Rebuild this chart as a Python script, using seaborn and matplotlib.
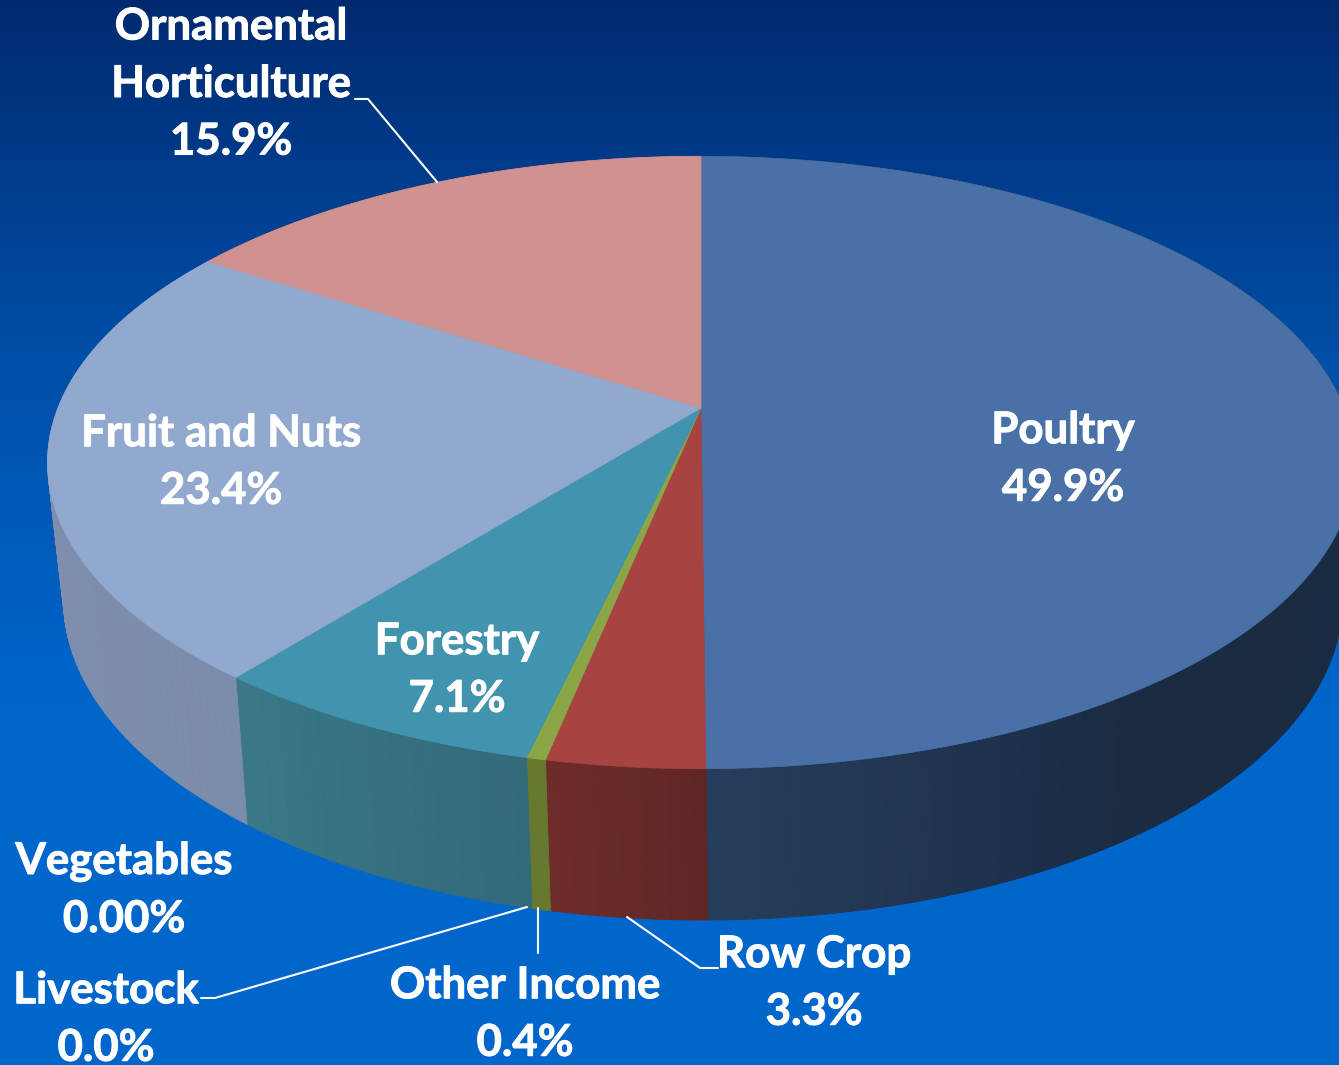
import numpy as np
import matplotlib
matplotlib.use('Agg')
import matplotlib.pyplot as plt
import matplotlib.colors as mcolors
import matplotlib.patheffects as pe
import seaborn as sns

# Slices, clockwise from 12 o'clock
categories = ['Poultry', 'Row Crop', 'Other Income', 'Forestry', 'Fruit and Nuts',
              'Ornamental\nHorticulture', 'Livestock', 'Vegetables']
shares = [49.9, 3.3, 0.4, 7.1, 23.4, 15.9, 0.0, 0.0]
share_labels = ['49.9%', '3.3%', '0.4%', '7.1%', '23.4%', '15.9%', '0.0%', '0.00%']
label_x = [1063, 814, 525, 457, 221, 231, 106, 124]
label_y = [459, 983, 1014, 670, 462, 84, 1019, 890]

top_colors = ['#4971A7', '#A74442', '#8BA646', '#4293AE', '#92A9CF', '#CF9291', '#7F9A48', '#6F5C92']
side_start = ['#263E5C', '#6E2C2B', '#66792F', '#3A7888', '#8792B0', '#8E6463', '#55662F', '#4A3D62']
side_end = ['#1A2B42', '#5E2625', '#66792F', '#33697A', '#7C8CAB', '#A07877', '#55662F', '#4A3D62']

sns.set_style('white')
plt.rcParams['font.family'] = ['Lato', 'DejaVu Sans']

top_palette = sns.color_palette(top_colors)


def project(theta, cx, cy, a, b, k):
    # circle -> screen with a bit of perspective, far edge is squeezed
    x = np.sin(theta)
    y = np.cos(theta)
    w = 1 + k * y
    return cx + a * x / w, cy - b * y / w


def top_face(theta):
    return project(theta, 701, 408, 643, 296.5, 0.178)


def bottom_face(theta):
    return project(theta, 703, 542, 629, 310, 0.18)


fig = plt.figure(figsize=(13.39, 10.65), dpi=100)
ax = fig.add_axes([0, 0, 1, 1])

# background gradient
grad_cmap = mcolors.LinearSegmentedColormap.from_list('bg', ['#002A70', '#004FA8', '#0066CC', '#0066CC'])
ax.imshow(np.linspace(0, 1, 256).reshape(-1, 1), cmap=grad_cmap, aspect='auto',
          extent=(0, 1339, 1065, 0), zorder=0)

edges = np.cumsum([0] + shares) / sum(shares) * 2 * np.pi

# side wall first, top face hides the back part of it
for i in range(len(shares)):
    if shares[i] == 0:
        continue
    n = max(int(shares[i] * 4), 3)
    t = np.linspace(edges[i + 1], edges[i], n + 1)  # left to right along the front
    c0 = np.array(mcolors.to_rgb(side_start[i]))
    c1 = np.array(mcolors.to_rgb(side_end[i]))
    for j in range(n):
        f = j / n
        if i == 0:
            # poultry goes dark fast going right from the front
            f = min(max((np.pi - t[j]) / 0.6, 0), 1)
        col = c0 * (1 - f) + c1 * f
        tx, ty = top_face(t[j:j + 2])
        bx, by = bottom_face(t[j:j + 2])
        ax.fill(np.r_[tx, bx[::-1]], np.r_[ty, by[::-1]], color=col, lw=0.6, zorder=1)

# top face
ox, oy = project(np.pi / 2, 701, 408, 0, 0, 0.178)
for i in range(len(shares)):
    if shares[i] == 0:
        continue
    t = np.linspace(edges[i], edges[i + 1], 200)
    x, y = top_face(t)
    ax.fill(np.r_[ox, x], np.r_[oy, y], color=top_palette[i], lw=0.5, zorder=2)

# leader lines
ax.plot([355, 368, 437], [99, 99, 182], color='white', lw=1.5, zorder=3)
ax.plot([201, 215, 527], [998, 998, 907], color='white', lw=1.5, zorder=3)
ax.plot([538, 538], [908, 953], color='white', lw=1.5, zorder=3)
ax.plot([627, 700, 718], [917, 968, 968], color='white', lw=1.5, zorder=3)

# labels
for name, share, lx, ly in zip(categories, share_labels, label_x, label_y):
    ax.text(lx, ly, name + '\n' + share, ha='center', va='center', color='white',
            fontsize=31.5, fontweight='bold', linespacing=1.53, zorder=4,
            path_effects=[pe.withStroke(linewidth=0.7, foreground='white')])

ax.set_xlim(0, 1339)
ax.set_ylim(1065, 0)
ax.axis('off')

fig.savefig('out.png', dpi=100)
